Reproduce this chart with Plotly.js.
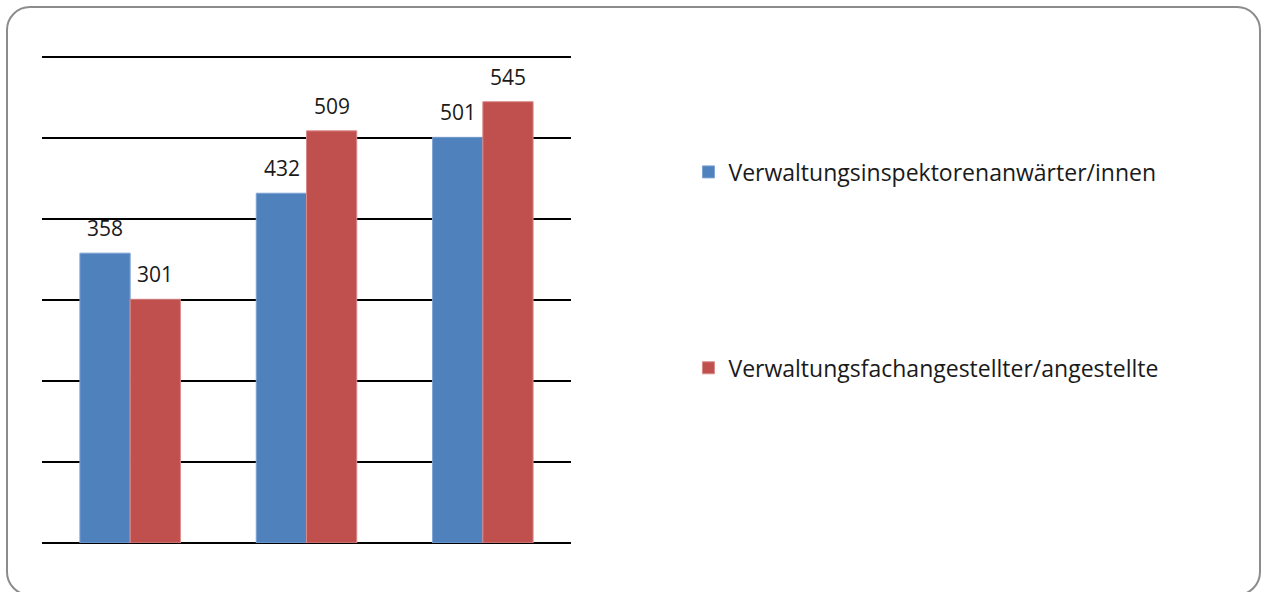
<!DOCTYPE html>
<html>
<head>
<meta charset="utf-8">
<script src="https://cdn.plot.ly/plotly-3.0.1.min.js"></script>
<style>
html,body{margin:0;padding:0;background:#fff;}
#wrap{position:relative;width:1264px;height:592px;}
#chart{width:1264px;height:592px;}
#frame{position:absolute;left:6px;top:6px;width:1255px;height:590px;border:2px solid #8c8c8c;border-radius:24px;box-sizing:border-box;pointer-events:none;}
</style>
</head>
<body>
<div id="wrap"><div id="chart"></div><div id="frame"></div></div>
<script>
const categories = ["A", "B", "C"];
const seriesNames = ["Verwaltungsinspektorenanwärter/innen", "Verwaltungsfachangestellter/angestellte"];
const inspektoren = [358, 432, 501];
const fachangestellte = [301, 509, 545];
const colors = ["#4F81BD", "#C0504D"];
const font = "'Open Sans', Lato, sans-serif";

const series = [inspektoren, fachangestellte];
const traces = series.map((vals, i) => ({
  type: "bar",
  x: categories,
  y: vals,
  name: seriesNames[i],
  legendgroup: "g" + i,
  marker: {color: colors[i], line: {color: i === 0 ? "#7ea3d4" : "#d98a88", width: 1}}
}));

const annotations = [];
series.forEach((vals, i) => {
  vals.forEach((v, j) => {
    annotations.push({
      x: categories[j], y: v, xref: "x", yref: "y",
      text: String(v), showarrow: false,
      xanchor: "center", yanchor: "bottom",
      xshift: i === 0 ? -25 : 25, yshift: 9,
      font: {family: font, size: 21, color: "#1a1a1a"}
    });
  });
});

const layout = {
  width: 1264, height: 592,
  margin: {l: 42, r: 693, t: 41, b: 49},
  paper_bgcolor: "#fff", plot_bgcolor: "#fff",
  barmode: "group",
  bargap: 0.43,
  bargroupgap: 0,
  xaxis: {showticklabels: false, showgrid: false, zeroline: false, showline: false, ticks: ""},
  yaxis: {range: [0, 620], tick0: 0, dtick: 100, showticklabels: false, showgrid: true, gridcolor: "#000", gridwidth: 2, zeroline: true, zerolinecolor: "#000", zerolinewidth: 2, ticks: "", layer: "below traces"},
  annotations: annotations,
  showlegend: true,
  legend: {x: 1.222, xanchor: "left", y: 0.782, yanchor: "top", traceorder: "grouped", tracegroupgap: 163, font: {family: font, size: 23, color: "#1a1a1a"}, itemwidth: 30, bgcolor: "rgba(0,0,0,0)"},
  font: {family: font}
};

Plotly.newPlot("chart", traces, layout, {staticPlot: true, displayModeBar: false});
</script>
</body>
</html>
